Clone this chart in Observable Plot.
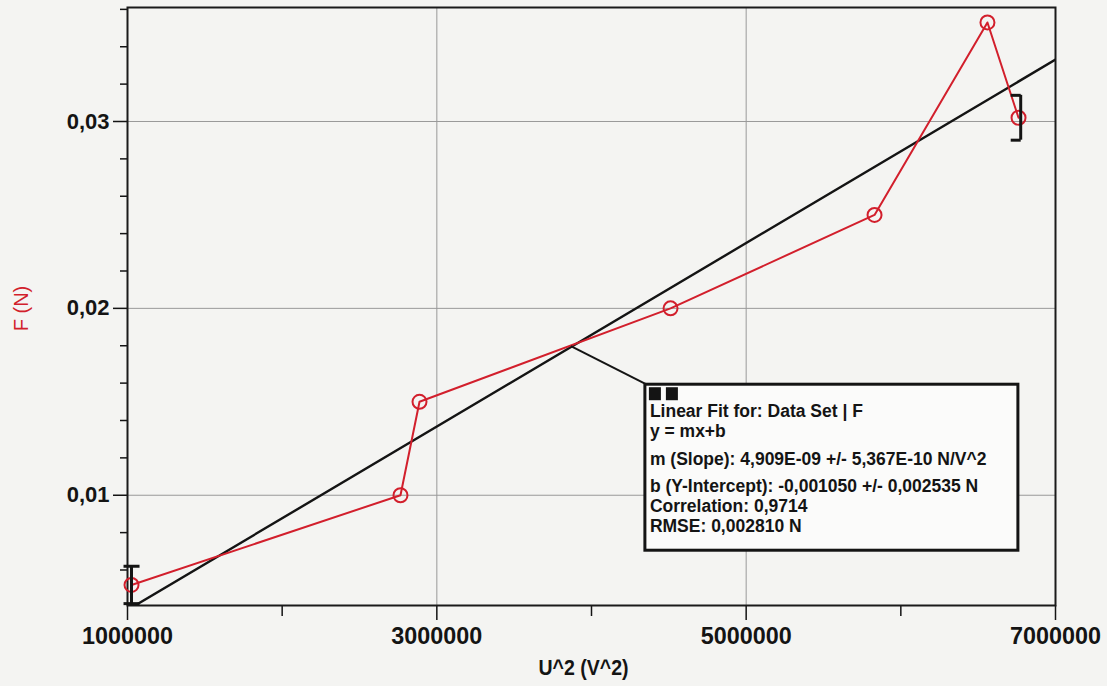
<!DOCTYPE html>
<html><head><meta charset="utf-8">
<script src="https://cdn.jsdelivr.net/npm/d3@7"></script>
<script src="https://cdn.jsdelivr.net/npm/@observablehq/plot@0.6"></script>
<style>
html,body{margin:0;padding:0;background:#f4f4f2;}
#chart svg{display:block;background:transparent;}
</style></head><body><div id="chart"></div>
<script>
// ---- data ----
const u2 = [1026000, 2765000, 2888000, 4511000, 5830000, 6560000, 6761000];
const force = [0.0052, 0.0100, 0.0150, 0.0200, 0.0250, 0.0353, 0.0302];
const errX = [1026000, 6775000];
const errY = [0.0052, 0.0302];
const errSize = [0.0010, 0.0012];
const fitSlope = 4.909e-9;
const fitIntercept = -0.001050;
const fitXRange = [1000000, 7000000];
const calloutX = 3870000;
const xMajorTicks = [1000000, 3000000, 5000000, 7000000];
const xMinorTicks = [2000000, 4000000, 6000000];
const yMajorTicks = [0.01, 0.02, 0.03];
const yMinorTicks = [0.006, 0.008, 0.012, 0.014, 0.016, 0.018, 0.022, 0.024, 0.026, 0.028, 0.032, 0.034, 0.036];
const fitLabelLines = [
  "Linear Fit for: Data Set | F",
  "y = mx+b",
  "m (Slope): 4,909E-09 +/- 5,367E-10 N/V^2",
  "b (Y-Intercept): -0,001050 +/- 0,002535 N",
  "Correlation: 0,9714",
  "RMSE: 0,002810 N"
];
const xLabel = "U^2 (V^2)";
const yLabel = "F (N)";

// ---- derived tables ----
const points = u2.map((x, i) => ({x, y: force[i]}));
const bars = errX.map((x, i) => ({x, lo: errY[i] - errSize[i], hi: errY[i] + errSize[i], i}));
const fit = fitXRange.map(x => ({x, y: fitSlope * x + fitIntercept}));

const SANS = "'Liberation Sans',Arial,Helvetica,sans-serif";
const RED = "#d21f2c";
const INK = "#141414";

const capBoth = {draw(ctx, size) { const r = Math.sqrt(size / Math.PI); ctx.moveTo(-r, 0); ctx.lineTo(r, 0); }};
const capLeft = {draw(ctx, size) { const r = Math.sqrt(size / Math.PI); ctx.moveTo(-r, 0); ctx.lineTo(0, 0); }};

function fitCallout(index, scales) {
  const ax = scales.x(calloutX);
  const ay = scales.y(fitSlope * calloutX + fitIntercept);
  const g = d3.create("svg:g");
  const bx = ax + 74, by = ay + 38, bw = 373, bh = 166;
  g.append("line").attr("x1", ax).attr("y1", ay).attr("x2", bx + 3).attr("y2", by + 1)
    .attr("stroke", INK).attr("stroke-width", 2);
  g.append("rect").attr("x", bx).attr("y", by).attr("width", bw).attr("height", bh)
    .attr("fill", "#fbfbfa").attr("stroke", INK).attr("stroke-width", 3);
  g.append("rect").attr("x", bx + 4).attr("y", by + 3).attr("width", 12).attr("height", 13).attr("fill", INK);
  g.append("rect").attr("x", bx + 21).attr("y", by + 3).attr("width", 12).attr("height", 13).attr("fill", INK);
  const offs = [33, 53, 81, 108, 128, 148];
  fitLabelLines.forEach((t, i) => {
    g.append("text").attr("x", bx + 5).attr("y", by + offs[i])
      .attr("text-anchor", "start")
      .attr("font-family", SANS).attr("font-weight", "bold").attr("font-size", 17.5)
      .attr("fill", INK).text(t);
  });
  return g.node();
}

const chart = Plot.plot({
  width: 1107, height: 686,
  marginLeft: 127, marginRight: 52, marginTop: 7, marginBottom: 81,
  x: {domain: [1000000, 7000000]},
  y: {domain: [0.0041, 0.0361]},
  marks: [
    Plot.gridX(xMajorTicks, {stroke: "#999", strokeOpacity: 1, strokeWidth: 1}),
    Plot.gridY(yMajorTicks, {stroke: "#999", strokeOpacity: 1, strokeWidth: 1}),
    Plot.axisX({ticks: xMajorTicks, tickSize: 15, tickPadding: 6, tickFormat: d => String(d),
      fontSize: 24, fontWeight: "bold", fontFamily: SANS, label: null, stroke: INK, strokeWidth: 1.5, fill: INK}),
    Plot.axisX({ticks: xMinorTicks, tickSize: 11, tickFormat: () => "", label: null, stroke: INK, strokeWidth: 1.5}),
    Plot.axisY({ticks: yMajorTicks, tickSize: 14, tickPadding: 4, tickFormat: d => d.toFixed(2).replace(".", ","),
      fontSize: 22, fontWeight: "bold", fontFamily: SANS, label: null, stroke: INK, strokeWidth: 1.5, fill: INK}),
    Plot.axisY({ticks: yMinorTicks, tickSize: 7, tickFormat: () => "", label: null, stroke: INK, strokeWidth: 1.5}),
    Plot.text([xLabel], {frameAnchor: "bottom", lineAnchor: "middle", textAnchor: "middle", dx: -8, dy: 62,
      fontSize: 22, fontWeight: "bold", fontFamily: SANS, fill: INK}),
    Plot.text([yLabel], {frameAnchor: "left", textAnchor: "middle", lineAnchor: "middle", rotate: -90, dx: -106, dy: 2,
      fontSize: 20, fontFamily: SANS, fill: RED}),
    Plot.frame({stroke: "#1a1a1a", strokeWidth: 2}),
    Plot.line(fit, {x: "x", y: "y", stroke: INK, strokeWidth: 2.4, clip: true}),
    Plot.line(points, {x: "x", y: "y", stroke: RED, strokeWidth: 2}),
    Plot.dot(points, {x: "x", y: "y", r: 7, stroke: RED, strokeWidth: 2, fill: "none"}),
    Plot.ruleX(bars, {x: "x", y1: "lo", y2: "hi", stroke: INK, strokeWidth: 3}),
    Plot.dot(bars.filter(d => d.i === 0), {x: "x", y: "lo", r: 8, symbol: capBoth, stroke: INK, strokeWidth: 3}),
    Plot.dot(bars.filter(d => d.i === 0), {x: "x", y: "hi", r: 8, symbol: capBoth, stroke: INK, strokeWidth: 3}),
    Plot.dot(bars.filter(d => d.i === 1), {x: "x", y: "lo", r: 10, symbol: capLeft, stroke: INK, strokeWidth: 3}),
    Plot.dot(bars.filter(d => d.i === 1), {x: "x", y: "hi", r: 10, symbol: capLeft, stroke: INK, strokeWidth: 3}),
    fitCallout
  ]
});
// narrow the condensed-looking tick labels and axis title to the reference's widths
d3.select(chart).selectAll('g[aria-label="x-axis tick label"] text')
  .filter(function() { return this.textContent.length > 0; })
  .attr("textLength", 91).attr("lengthAdjust", "spacingAndGlyphs");
document.getElementById("chart").appendChild(chart);
d3.select(chart).selectAll('g[aria-label="text"] text')
  .filter(function() { return this.textContent === xLabel; })
  .attr("textLength", 90).attr("lengthAdjust", "spacingAndGlyphs");
</script>
</body></html>
